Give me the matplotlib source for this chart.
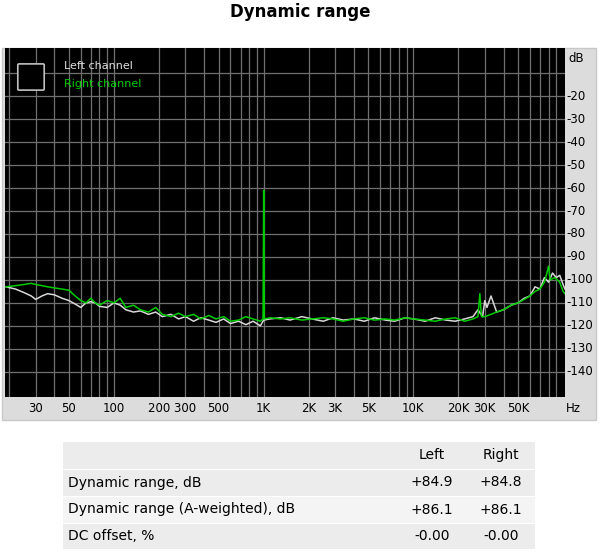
import matplotlib
matplotlib.use("Agg")
import matplotlib.pyplot as plt
from matplotlib.patches import Rectangle, FancyBboxPatch

# Spectrum data (Hz, dB)
freq_left = [19, 22, 25, 28, 30, 33, 36, 40, 45, 50, 55, 60, 65, 70, 75, 80, 90, 100, 110, 120, 135, 150,
             170, 190, 210, 240, 270, 300, 340, 380, 430, 480, 540, 600, 680, 760, 850, 950, 1000, 1100,
             1300, 1500, 1800, 2100, 2500, 2900, 3400, 4000, 4700, 5500, 6500, 7500, 8800, 10000, 12000,
             14000, 16500, 19000, 22000, 25000, 27000, 29000, 30000, 31000, 33000, 36000, 40000, 45000,
             50000, 55000, 60000, 65000, 70000, 75000, 80000, 85000, 90000, 95000, 100000, 103000]
db_left = [-103, -104, -105.5, -107, -108.5, -107, -106, -106.5, -108, -109, -110.5, -112, -110, -109.5, -110, -111.5, -112, -110, -111, -113, -114, -113.5,
           -115, -114, -116, -115, -117, -116, -118, -116.5, -117.5, -118.5, -117, -119, -118, -119.5, -118, -120, -117.5, -117,
           -116.5, -117.5, -116, -117, -118, -116.5, -117.5, -117, -118, -116.5, -117.5, -118, -116.5, -117, -118,
           -116.5, -117.5, -118, -117, -116, -113, -116, -109, -112, -107, -114, -113, -111,
           -110, -108, -107, -103, -104, -99, -101, -97, -99, -98, -102, -104]
freq_right = [19, 22, 25, 28, 30, 33, 36, 40, 45, 50, 55, 60, 65, 70, 75, 80, 90, 100, 110, 120, 135, 150,
              170, 190, 210, 240, 270, 300, 340, 380, 430, 480, 540, 600, 680, 760, 850, 950, 990, 1000, 1010, 1100,
              1300, 1500, 1800, 2100, 2500, 2900, 3400, 4000, 4700, 5500, 6500, 7500, 8800, 10000, 12000,
              14000, 16500, 19000, 22000, 25000, 27000, 27800, 28500, 30000, 33000, 36000, 40000, 45000,
              50000, 55000, 60000, 65000, 70000, 75000, 78000, 80000, 82000, 88000, 95000, 100000, 103000]
db_right = [-103, -102.5, -102, -101.5, -102, -102.5, -103, -103.5, -104, -104.5, -107, -109, -110, -108, -110, -111, -109, -110, -108, -112, -111, -113,
            -114, -112, -115, -116, -114.5, -116, -115, -117, -115.5, -117, -116, -118, -117.5, -116, -117, -118, -117, -61, -117, -116.5,
            -117, -116.5, -117.5, -117, -116.5, -117, -118, -117, -116.5, -117.5, -117, -117.5, -116.5, -117, -117.5,
            -118, -117, -116.5, -118, -117, -116, -106, -116, -116, -115, -114, -113, -111,
            -110, -108.5, -107, -105, -104, -101, -97, -94, -100, -99, -101, -105, -106]

x_ticks = [30, 50, 100, 1000, 2000, 3000, 5000, 10000, 20000, 30000, 50000]
x_labels = ["30", "50", "100", "1K", "2K", "3K", "5K", "10K", "20K", "30K", "50K"]
y_ticks = [-20, -30, -40, -50, -60, -70, -80, -90, -100, -110, -120, -130, -140]

table_cols = ["Left", "Right"]
table_rows = ["Dynamic range, dB", "Dynamic range (A-weighted), dB", "DC offset, %"]
table_left = ["+84.9", "+86.1", "-0.00"]
table_right = ["+84.8", "+86.1", "-0.00"]

W, H = 600, 553
fig = plt.figure(figsize=(6, 5.53), dpi=100)

def fx(px):
    return px / W

def fy(py):
    return 1 - py / H

fig.text(0.5, fy(12), "Dynamic range", ha="center", va="center", fontsize=12, fontweight="bold")

# gray panel behind the plot
fig.patches.append(Rectangle((fx(2), fy(420)), fx(594), 372 / H, transform=fig.transFigure,
                             facecolor="#dcdcdc", edgecolor="#c8c8c8", zorder=-1))

ax = fig.add_axes([fx(5), fy(397), fx(560), 349 / H], zorder=1)
ax.set_facecolor("black")
ax.set_xscale("log")
ax.set_xlim(18.7, 103000)
ax.set_ylim(-151, 1)

# grid lines
for dec in [10, 100, 1000, 10000]:
    for m in range(1, 10):
        f = dec * m
        if 18.7 < f < 103000:
            ax.axvline(f, color="#707070", lw=0.9, zorder=1)
for y in range(-140, 0, 10):
    ax.axhline(y, color="#707070", lw=0.9, zorder=1)

ax.plot(freq_left, db_left, color="#d8d8d8", lw=1.1, zorder=3)
ax.plot(freq_right, db_right, color="#00cc00", lw=1.1, zorder=4)

ax.set_xticks([])
ax.set_yticks([])
ax.minorticks_off()
for s in ax.spines.values():
    s.set_visible(False)

to_fig = fig.transFigure.inverted()
def xfig(f):
    return to_fig.transform(ax.transData.transform((f, -151)))[0]

# axis labels drawn in the gray panel
for f, lab in zip(x_ticks, x_labels):
    fig.text(xfig(f), fy(408), lab, ha="center", va="center", fontsize=8.5)
fig.text((xfig(200) + xfig(300)) / 2, fy(408), "200 300", ha="center", va="center", fontsize=8.5)
fig.text(xfig(500), fy(408), "500", ha="center", va="center", fontsize=8.5)
fig.text(fx(573), fy(408), "Hz", ha="center", va="center", fontsize=8.5)
for y in y_ticks:
    yf = to_fig.transform(ax.transData.transform((100, y)))[1]
    fig.text(fx(566), yf, str(y), ha="left", va="center", fontsize=8.5)
fig.text(fx(568), fy(58), "dB", ha="left", va="center", fontsize=8.5)

# legend with icon
fig.patches.append(FancyBboxPatch((fx(19), fy(89)), fx(24), 24 / H, boxstyle="round,pad=0.002",
                                  transform=fig.transFigure, facecolor="black", edgecolor="#c0c0c0",
                                  lw=1.2, zorder=5))
fig.text(fx(64), fy(66), "Left channel", color="#e0e0e0", fontsize=8, va="center", zorder=6)
fig.text(fx(64), fy(84), "Right channel", color="#00cc00", fontsize=8, va="center", zorder=6)

# results table
rows_y = [441, 469, 496, 523, 549]
for i in range(4):
    fig.patches.append(Rectangle((fx(63), fy(rows_y[i + 1])), fx(472), (rows_y[i + 1] - rows_y[i] - 1) / H,
                                 transform=fig.transFigure, facecolor="#ececec" if i != 2 else "#f4f4f4",
                                 edgecolor="none", zorder=-1))
mid = lambda i: fy((rows_y[i] + rows_y[i + 1]) / 2)
fig.text(fx(432), mid(0), table_cols[0], ha="center", va="center", fontsize=10)
fig.text(fx(501), mid(0), table_cols[1], ha="center", va="center", fontsize=10)
for i, name in enumerate(table_rows):
    fig.text(fx(68), mid(i + 1), name, ha="left", va="center", fontsize=10)
    fig.text(fx(432), mid(i + 1), table_left[i], ha="center", va="center", fontsize=10)
    fig.text(fx(501), mid(i + 1), table_right[i], ha="center", va="center", fontsize=10)

fig.savefig("out.png", dpi=100)
